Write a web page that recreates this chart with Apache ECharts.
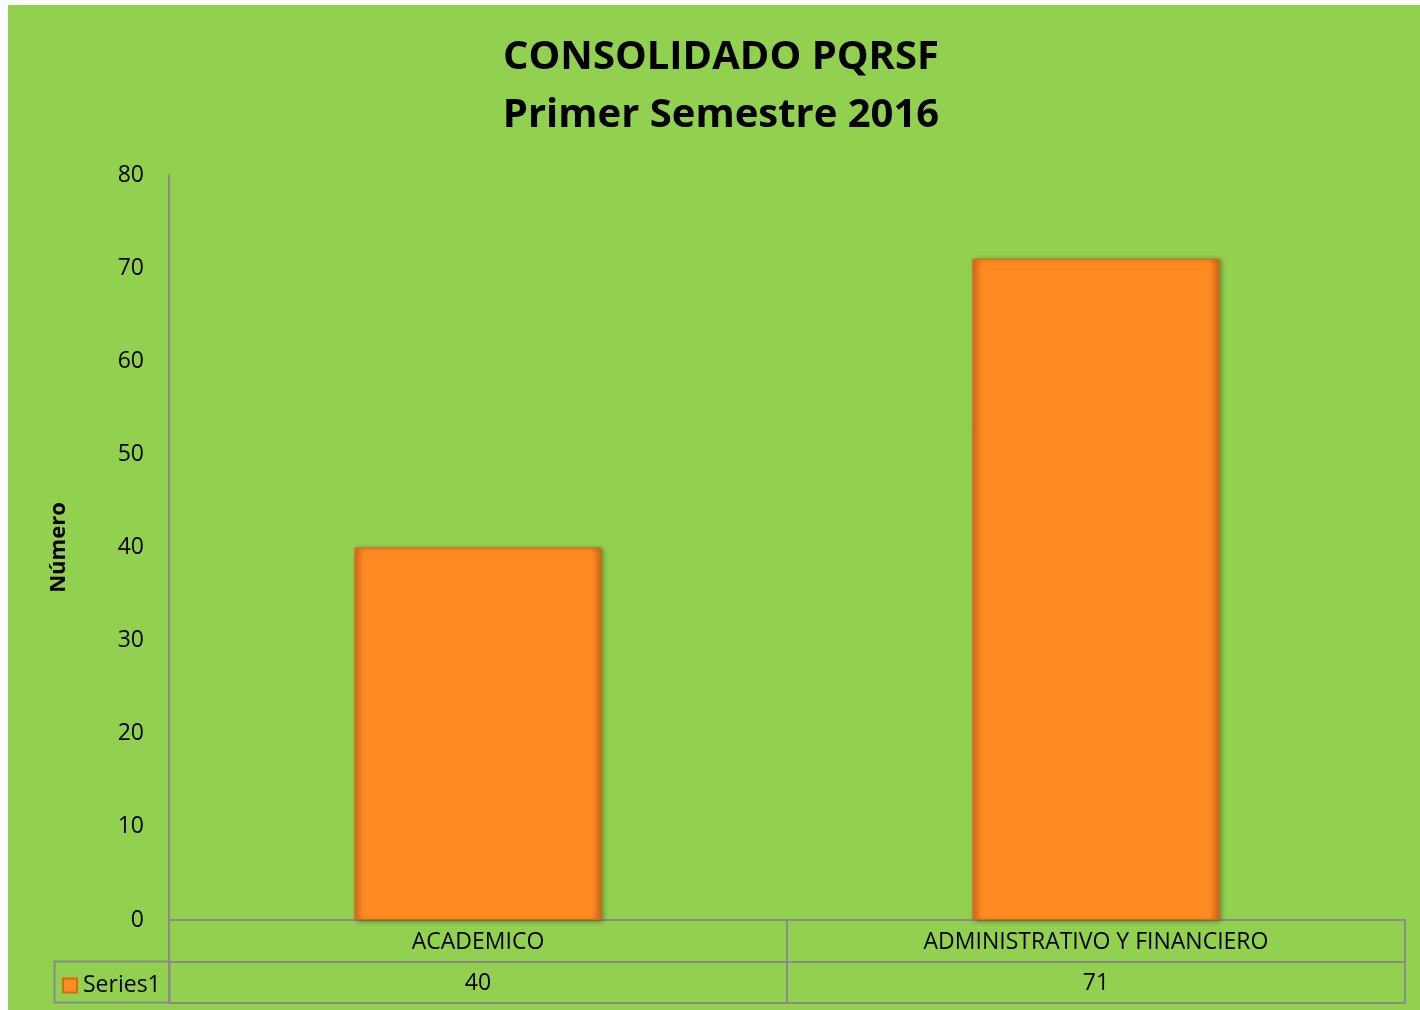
<!DOCTYPE html>
<html>
<head>
<meta charset="utf-8">
<script src="https://cdn.jsdelivr.net/npm/echarts@6/dist/echarts.min.js"></script>
<style>
  html, body { margin: 0; padding: 0; background: #fcfcfc; }
  #chart { position: absolute; left: 8px; top: 5px; width: 1412px; height: 1005px; background: #92d050; }
</style>
</head>
<body>
<div id="chart"></div>
<script>
const categories = ['ACADEMICO', 'ADMINISTRATIVO Y FINANCIERO']
const values = [40, 71]
const seriesName = 'Series1'
const yTicks = { min: 0, max: 80, interval: 10 }

const FONT = '"Open Sans", "Noto Sans", sans-serif'
const LINE = '#8a8a8a'

const chart = echarts.init(document.getElementById('chart'))

const barColor = {
  type: 'linear', x: 0, y: 0, x2: 1, y2: 0,
  colorStops: [
    { offset: 0, color: '#d9701c' },
    { offset: 0.04, color: '#ff8b22' },
    { offset: 0.96, color: '#ff8b22' },
    { offset: 1, color: '#c9661a' },
  ],
}

chart.setOption({
  animation: false,
  textStyle: { fontFamily: FONT },
  title: {
    text: 'CONSOLIDADO PQRSF\nPrimer Semestre 2016',
    left: 708, top: 19, textAlign: 'center',
    textStyle: { fontFamily: FONT, fontSize: 40, fontWeight: 'bold', lineHeight: 58, color: '#000' },
  },
  legend: {
    data: [seriesName], left: 49, top: 964,
    itemWidth: 14, itemHeight: 14, itemGap: 4, icon: 'rect',
    textStyle: { fontFamily: FONT, fontSize: 23, color: '#000', padding: [0, 0, 0, 1] },
  },
  grid: { left: 161, right: 15, top: 170, bottom: 90 },
  xAxis: [
    {
      type: 'category', data: categories, position: 'bottom',
      axisLine: { show: true, lineStyle: { color: LINE, width: 2 } },
      axisTick: { show: true, length: 83, lineStyle: { color: LINE, width: 2 } },
      axisLabel: { fontSize: 23, color: '#000', margin: 11 },
    },
    {
      type: 'category', data: values.map(String), position: 'bottom', offset: 42,
      axisLine: { show: true, lineStyle: { color: LINE, width: 2 } },
      axisTick: { show: false },
      axisLabel: { fontSize: 23, color: '#000', margin: 10 },
    },
    {
      type: 'category', data: categories, position: 'bottom', offset: 83,
      axisLine: { show: true, lineStyle: { color: LINE, width: 2 } },
      axisTick: { show: false },
      axisLabel: { show: false },
    },
  ],
  yAxis: {
    type: 'value', min: yTicks.min, max: yTicks.max, interval: yTicks.interval,
    name: 'Número', nameLocation: 'middle', nameGap: 99, nameRotate: 90,
    nameTextStyle: { fontFamily: FONT, fontSize: 22, fontWeight: 'bold', color: '#000' },
    axisLine: { show: true, lineStyle: { color: LINE, width: 2 } },
    axisTick: { show: false },
    splitLine: { show: false },
    axisLabel: { fontSize: 23, color: '#000', margin: 25 },
  },
  graphic: [{
    type: 'rect', left: 44, top: 954, z: 0,
    shape: { width: 115, height: 41 },
    style: { fill: 'none', stroke: LINE, lineWidth: 2 },
  }],
  series: [{
    name: seriesName, type: 'bar', barWidth: '40%', data: values,
    itemStyle: {
      color: barColor, borderColor: '#d46a16', borderWidth: 1,
      shadowBlur: 5, shadowColor: 'rgba(0,0,0,0.35)', shadowOffsetX: 2, shadowOffsetY: 1,
    },
  }],
})
</script>
</body>
</html>
